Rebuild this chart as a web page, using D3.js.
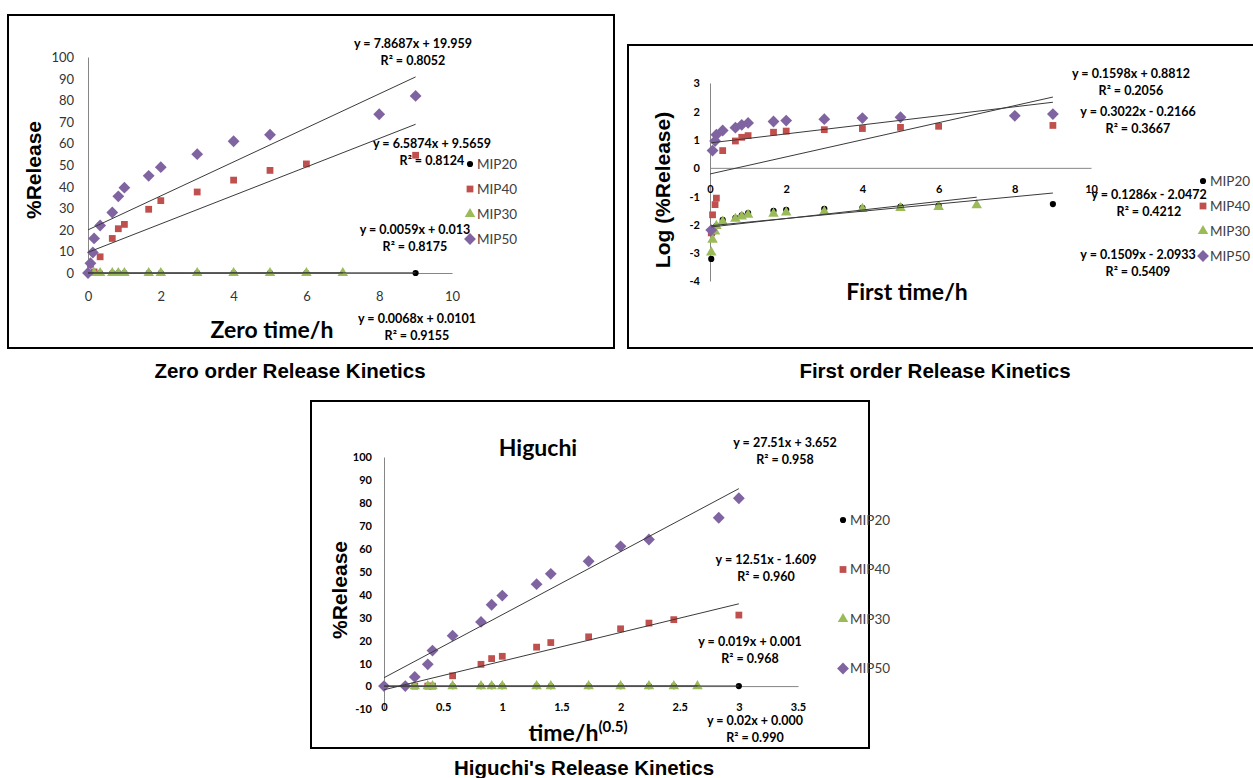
<!DOCTYPE html>
<html>
<head>
<meta charset="utf-8">
<script src="https://cdn.jsdelivr.net/npm/d3@7"></script>
<style>
	body { margin: 0; background: #fff; }
	text { font-family: Lato, "Liberation Sans", sans-serif; }
</style>
</head>
<body>
<div id="chart"></div>
<script>
const seriesNames = ["MIP20", "MIP40", "MIP30", "MIP50"];
const seriesColors = ["#000000", "#C0504D", "#9BBB59", "#8064A2"];

// zero order, time in hours
const zeroTime = [0, 0.033, 0.067, 0.133, 0.167, 0.333, 0.667, 0.833, 1, 1.667, 2, 3, 4, 5, 6, 7, 8, 9];
const zeroMIP20 = [null, null, null, null, 0, 0, 0, 0, 0, 0, 0, 0, 0, 0, 0, null, null, 0];
const zeroMIP40 = [null, null, 4, null, 0.5, 7.5, 16, 20.5, 22.5, 29.5, 33.5, 37.5, 43, 47.5, 50.5, null, null, 54.5];
const zeroMIP30 = [null, null, null, null, 0, 0, 0, 0, 0, 0, 0, 0, 0, 0, 0, 0, null, null];
const zeroMIP50 = [0, null, 4.5, 9.5, 16, 22, 28, 35.5, 39.5, 45, 49, 55, 61, 64, null, null, 73.5, 82];

// first order, log(%release)
const firstTime = [0.033, 0.067, 0.133, 0.167, 0.333, 0.667, 0.833, 1, 1.667, 2, 3, 4, 5, 6, 7, 8, 9];
const firstMIP20 = [-3.22, -2.3, null, -2.05, -1.84, -1.77, -1.68, -1.6, -1.52, -1.48, -1.45, -1.41, -1.37, -1.33, null, null, -1.28];
const firstMIP40 = [-2.3, -1.66, -1.3, -1.07, 0.61, 0.95, 1.08, 1.14, 1.26, 1.3, 1.35, 1.39, 1.43, 1.47, null, null, 1.5];
const firstMIP30 = [-2.99, -2.54, -2.25, -2.05, -1.9, -1.8, -1.72, -1.66, -1.62, -1.58, -1.55, -1.45, -1.42, -1.38, -1.32, null, null];
const firstMIP50 = [-2.2, 0.61, 0.95, 1.17, 1.32, 1.42, 1.52, 1.59, 1.64, 1.67, 1.72, 1.76, 1.79, null, null, 1.84, 1.9];

// higuchi, time^0.5
const higX = [0, 0.18, 0.26, 0.37, 0.41, 0.58, 0.82, 0.91, 1, 1.29, 1.41, 1.73, 2, 2.24, 2.45, 2.65, 2.83, 3];
const higMIP20 = [null, null, null, null, null, 0, 0, 0, 0, 0, 0, 0, 0, 0, 0, null, null, 0];
const higMIP40 = [null, null, 0, 0, 0, 4.5, 9.5, 12, 13, 17, 19, 21.5, 25, 27.5, 29, null, null, 31];
const higMIP30 = [null, null, 0, 0, 0, 0, 0, 0, 0, 0, 0, 0, 0, 0, 0, 0, null, null];
const higMIP50 = [0, 0, 4, 9.5, 15.5, 22, 28, 35.5, 39.5, 44.5, 49, 54.5, 61, 64, null, null, 73.5, 82];

// trendlines: [slope, intercept, xFrom, xTo] in series order
const zeroTrend = [[0.0068, 0.0101, 0, 9], [6.5874, 9.5659, 0, 9], [0.0059, 0.013, 0, 7], [7.8687, 19.959, 0, 9]];
const firstTrend = [[0.1286, -2.0472, 0.033, 9], [0.3022, -0.2166, 0, 9], [0.1509, -2.0933, 0.033, 7], [0.1598, 0.8812, 0.033, 9]];
const higTrend = [[0.02, 0, 0, 3], [12.51, -1.609, 0, 3], [0.019, 0.001, 0, 2.65], [27.51, 3.652, 0, 3]];

// equation labels
const zeroEq = [["y = 7.8687x + 19.959", "R² = 0.8052"], ["y = 6.5874x + 9.5659", "R² = 0.8124"], ["y = 0.0059x + 0.013", "R² = 0.8175"], ["y = 0.0068x + 0.0101", "R² = 0.9155"]];
const firstEq = [["y = 0.1598x + 0.8812", "R² = 0.2056"], ["y = 0.3022x - 0.2166", "R² = 0.3667"], ["y = 0.1286x - 2.0472", "R² = 0.4212"], ["y = 0.1509x - 2.0933", "R² = 0.5409"]];
const higEq = [["y = 27.51x + 3.652", "R² = 0.958"], ["y = 12.51x - 1.609", "R² = 0.960"], ["y = 0.019x + 0.001", "R² = 0.968"], ["y = 0.02x + 0.000", "R² = 0.990"]];

const zeroXTicks = [0, 2, 4, 6, 8, 10];
const zeroYTicks = [0, 10, 20, 30, 40, 50, 60, 70, 80, 90, 100];
const firstXTicks = [0, 2, 4, 6, 8, 10];
const firstYTicks = [-4, -3, -2, -1, 0, 1, 2, 3];
const higXTicks = [0, 0.5, 1, 1.5, 2, 2.5, 3, 3.5];
const higYTicks = [-10, 0, 10, 20, 30, 40, 50, 60, 70, 80, 90, 100];

const W = 1253, H = 778;

const svg = d3.select('#chart')
	.append('svg')
	.attr('width', W)
	.attr('height', H)
	.style('display', 'block');

svg.append('rect').attr('width', W).attr('height', H).attr('fill', '#fff');

const symbols = [
	d3.symbol().type(d3.symbolCircle).size(30),
	d3.symbol().type(d3.symbolSquare).size(46),
	d3.symbol().type(d3.symbolTriangle).size(48),
	d3.symbol().type(d3.symbolSquare).size(70)
];
const symRotate = [0, 0, 0, 45];

const drawMarker = (g, i, x, y) => {
	g.append('path')
		.attr('d', symbols[i]())
		.attr('transform', `translate(${x},${y}) rotate(${symRotate[i]})`)
		.attr('fill', seriesColors[i]);
};

const makePanel = (p) => {
	const g = svg.append('g');

	// frame
	g.append('rect')
		.attr('x', p.box[0]).attr('y', p.box[1])
		.attr('width', p.box[2]).attr('height', p.box[3])
		.attr('fill', 'none')
		.attr('stroke', '#000')
		.attr('stroke-width', 2);

	const x = d3.scaleLinear().domain(p.xDomain).range(p.xRange);
	const y = d3.scaleLinear().domain(p.yDomain).range(p.yRange);

	// axes
	const xAxis = d3.axisBottom(x).tickValues(p.xTicks).tickSize(0).tickFormat(d => d);
	const yAxis = d3.axisLeft(y).tickValues(p.yTicks).tickSize(0).tickFormat(d => d);

	const ya = g.append('g')
		.attr('transform', `translate(${x(0)},0)`)
		.call(yAxis);
	const xa = g.append('g')
		.attr('transform', `translate(0,${y(0)})`)
		.call(xAxis);

	[xa, ya].forEach(a => {
		a.select('.domain').attr('stroke', '#868686').attr('stroke-width', 1);
		a.selectAll('text')
			.attr('fill', p.tickColor)
			.style('font-size', p.tickSize + 'px')
			.style('font-weight', p.tickWeight);
	});
	ya.selectAll('text').attr('x', -p.yTickPad).attr('dy', '0.35em');
	xa.selectAll('text').attr('y', p.xTickY - y(0)).attr('dy', '0.35em');

	// points
	p.series.forEach((vals, i) => {
		vals.forEach((v, j) => {
			if (v === null) return;
			drawMarker(g, i, x(p.xs[j]), y(v));
		});
	});

	// trendlines
	p.trend.forEach(t => {
		g.append('line')
			.attr('x1', x(t[2])).attr('y1', y(t[0] * t[2] + t[1]))
			.attr('x2', x(t[3])).attr('y2', y(t[0] * t[3] + t[1]))
			.attr('stroke', '#3a3a3a')
			.attr('stroke-width', 1);
	});

	// equations
	p.eq.forEach((e, i) => {
		const pos = p.eqPos[i];
		e.forEach((line, k) => {
			g.append('text')
				.attr('x', pos[0]).attr('y', pos[1] + k * 17)
				.attr('text-anchor', 'middle')
				.attr('dy', '0.35em')
				.style('font-size', '12.5px')
				.style('font-weight', 'bold')
				.text(line);
		});
	});

	// legend
	seriesNames.forEach((n, i) => {
		const ly = p.legend[1] + i * p.legend[2];
		drawMarker(g, i, p.legend[0], ly);
		g.append('text')
			.attr('x', p.legend[0] + 7).attr('y', ly)
			.attr('dy', '0.35em')
			.attr('fill', '#404040')
			.style('font-size', '13.5px')
			.text(n);
	});

	// axis titles
	g.append('text')
		.attr('transform', `translate(${p.yTitle[0]},${p.yTitle[1]}) rotate(-90)`)
		.attr('text-anchor', 'middle')
		.attr('dy', '0.35em')
		.style('font-family', '"Liberation Sans", Arial, sans-serif')
		.style('font-size', '21px')
		.style('font-weight', 'bold')
		.text(p.yLabel);

	const xt = g.append('text')
		.attr('x', p.xTitle[0]).attr('y', p.xTitle[1])
		.attr('text-anchor', 'middle')
		.attr('dy', '0.35em')
		.style('font-size', '23px')
		.style('font-weight', 'bold')
		.text(p.xLabel);
	if (p.xSup) {
		xt.append('tspan')
			.attr('dy', '-0.6em')
			.style('font-size', '15px')
			.text(p.xSup);
	}

	// caption below panel
	svg.append('text')
		.attr('x', p.caption[0]).attr('y', p.caption[1])
		.attr('text-anchor', 'middle')
		.attr('dy', '0.35em')
		.style('font-family', '"Liberation Sans", Arial, sans-serif')
		.style('font-size', '20.5px')
		.style('font-weight', 'bold')
		.text(p.captionText);

	return g;
};

makePanel({
	box: [8, 15, 606, 333],
	xDomain: [0, 10], xRange: [88, 452],
	yDomain: [0, 100], yRange: [273, 57],
	xTicks: zeroXTicks, yTicks: zeroYTicks,
	tickColor: '#333', tickSize: 13, tickWeight: 'normal', yTickPad: 14, xTickY: 296,
	xs: zeroTime,
	series: [zeroMIP20, zeroMIP40, zeroMIP30, zeroMIP50],
	trend: zeroTrend,
	eq: zeroEq,
	eqPos: [[413, 44], [432, 144], [415, 230], [417, 319]],
	legend: [470, 164, 25],
	yLabel: '%Release', yTitle: [34, 170],
	xLabel: 'Zero time/h', xTitle: [272, 330],
	caption: [290, 371], captionText: 'Zero order Release Kinetics'
});

makePanel({
	box: [628, 45, 630, 303],
	xDomain: [0, 10], xRange: [710, 1091],
	yDomain: [-4, 3], yRange: [281, 83],
	xTicks: firstXTicks, yTicks: firstYTicks,
	tickColor: '#000', tickSize: 11, tickWeight: 'bold', yTickPad: 10, xTickY: 189,
	xs: firstTime,
	series: [firstMIP20, firstMIP40, firstMIP30, firstMIP50],
	trend: firstTrend,
	eq: firstEq,
	eqPos: [[1131, 74], [1138, 112], [1149, 195], [1138, 255]],
	legend: [1203, 181, 25],
	yLabel: 'Log (%Release)', yTitle: [663, 190],
	xLabel: 'First time/h', xTitle: [907, 292],
	caption: [935, 371], captionText: 'First order Release Kinetics'
});

const hig = makePanel({
	box: [311, 401, 558, 347],
	xDomain: [0, 3.5], xRange: [384, 798],
	yDomain: [-10, 100], yRange: [709, 457],
	xTicks: higXTicks, yTicks: higYTicks,
	tickColor: '#000', tickSize: 11, tickWeight: 'bold', yTickPad: 12, xTickY: 707,
	xs: higX,
	series: [higMIP20, higMIP40, higMIP30, higMIP50],
	trend: higTrend,
	eq: higEq,
	eqPos: [[785, 443], [766, 560], [750, 642], [755, 721]],
	legend: [843, 520, 49.5],
	yLabel: '%Release', yTitle: [340, 590],
	xLabel: 'time/h', xSup: '(0.5)', xTitle: [578, 733],
	caption: [584, 768], captionText: "Higuchi's Release Kinetics"
});

hig.append('text')
	.attr('x', 538).attr('y', 448)
	.attr('text-anchor', 'middle')
	.attr('dy', '0.35em')
	.style('font-size', '23px')
	.style('font-weight', 'bold')
	.text('Higuchi');
</script>
</body>
</html>
